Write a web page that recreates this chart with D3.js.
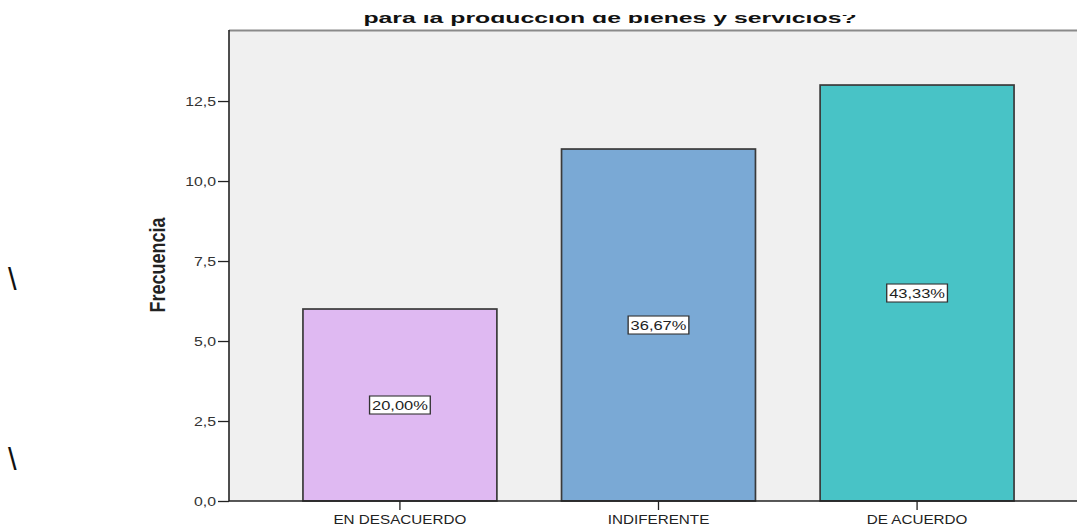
<!DOCTYPE html>
<html>
<head>
<meta charset="utf-8">
<script src="https://cdn.jsdelivr.net/npm/d3@7"></script>
<style>
  html, body { margin: 0; padding: 0; background: #fff; }
  svg { display: block; }
  text { font-family: Arial, "Liberation Sans", sans-serif; }
</style>
</head>
<body>
<svg id="chart" width="1077" height="526"></svg>
<script>
// Frequency of answers per category
const categories = ["EN DESACUERDO", "INDIFERENTE", "DE ACUERDO"];
const frequencies = [6, 11, 13];
const barColors = ["#dfb9f2", "#7aa9d5", "#48c3c6"];
const yTicks = [0, 2.5, 5, 7.5, 10, 12.5];
const titleText = "para la producción de bienes y servicios?";
const axisTitle = "Frecuencia";

const total = d3.sum(frequencies);
const fmtComma = d3.format(".1f");
const fmtPct = d3.format(".2f");
const comma = s => s.replace(".", ",");

// all lettering is drawn horizontally widened
const SX = 1.22;

const svg = d3.select("#chart");
const W = 1077, H = 526;
const plot = { left: 229, right: 1088, top: 30, bottom: 501 };

const x = d3.scaleBand()
  .domain(categories)
  .range([plot.left, plot.right])
  .paddingInner(0.25)
  .paddingOuter(0.286);

const y = d3.scaleLinear()
  .domain([0, 14.72])
  .range([plot.bottom, plot.top]);

// plot background
svg.append("rect")
  .attr("x", plot.left).attr("y", plot.top)
  .attr("width", plot.right - plot.left)
  .attr("height", plot.bottom - plot.top)
  .attr("fill", "#f0f0f0");

// top frame line
svg.append("line")
  .attr("x1", plot.left).attr("x2", plot.right)
  .attr("y1", plot.top + 0.5).attr("y2", plot.top + 0.5)
  .attr("stroke", "#8a8a8a").attr("stroke-width", 2);

// bars
const data = categories.map((c, i) => ({ c, v: frequencies[i], color: barColors[i] }));
svg.append("g").selectAll("rect")
  .data(data).join("rect")
  .attr("x", d => x(d.c))
  .attr("y", d => y(d.v))
  .attr("width", x.bandwidth())
  .attr("height", d => y(0) - y(d.v))
  .attr("fill", d => d.color)
  .attr("stroke", "#3a3a3a")
  .attr("stroke-width", 1.7);

// percentage labels at bar mid-height
const labels = svg.append("g").selectAll("g")
  .data(data).join("g")
  .attr("transform", d => `translate(${x(d.c) + x.bandwidth() / 2},${y(d.v / 2)}) scale(${SX},1)`);
labels.append("text")
  .attr("text-anchor", "middle")
  .attr("dy", "0.36em")
  .attr("font-size", 13.5)
  .attr("fill", "#222")
  .text(d => comma(fmtPct(d.v / total * 100)) + "%")
  .each(function () {
    const b = this.getBBox();
    d3.select(this.parentNode).insert("rect", "text")
      .attr("x", b.x - 2).attr("y", -9)
      .attr("width", b.width + 4).attr("height", 18)
      .attr("fill", "#fff")
      .attr("stroke", "#333").attr("stroke-width", 1.1);
  });

// y axis
const yAxis = d3.axisLeft(y)
  .tickValues(yTicks)
  .tickSize(11)
  .tickPadding(2)
  .tickFormat(d => comma(fmtComma(d)));
const gy = svg.append("g")
  .attr("transform", `translate(${plot.left},0)`)
  .call(yAxis);
gy.select(".domain").attr("d", `M0,${plot.top}V${plot.bottom}`).attr("stroke", "#222").attr("stroke-width", 1.6);
gy.selectAll(".tick line").attr("stroke", "#222").attr("stroke-width", 1.3);
gy.selectAll(".tick text")
  .attr("font-size", 13).attr("fill", "#333")
  .attr("font-family", "Arial, 'Liberation Sans', sans-serif")
  .attr("x", -13 / SX)
  .attr("transform", `scale(${SX},1)`);

// x axis
const xAxis = d3.axisBottom(x).tickSize(9).tickPadding(5);
const gx = svg.append("g")
  .attr("transform", `translate(0,${plot.bottom})`)
  .call(xAxis);
gx.select(".domain").attr("d", `M${plot.left},0H${plot.right}`).attr("stroke", "#222").attr("stroke-width", 1.3);
gx.selectAll(".tick line").attr("stroke", "#222").attr("stroke-width", 1.3);
gx.selectAll(".tick text")
  .attr("font-size", 12.5).attr("fill", "#222")
  .attr("font-family", "Arial, 'Liberation Sans', sans-serif")
  .attr("transform", `scale(${SX},1)`);

// y axis title
svg.append("text")
  .attr("transform", `translate(157,265) scale(${SX},1) rotate(-90)`)
  .attr("text-anchor", "middle")
  .attr("dy", "0.36em")
  .attr("font-size", 18)
  .attr("font-weight", "bold")
  .attr("fill", "#222")
  .text(axisTitle);

// chart title (upper part hidden behind the page edge band)
svg.append("text")
  .attr("transform", `translate(610,22.5) scale(1.24,0.7)`)
  .attr("text-anchor", "middle")
  .attr("font-size", 20)
  .attr("font-weight", "bold")
  .attr("fill", "#111")
  .text(titleText);
svg.append("rect")
  .attr("x", 0).attr("y", 0).attr("width", W).attr("height", 15)
  .attr("fill", "#fff");

// stray marks in the left margin
svg.append("g").selectAll("text")
  .data([290, 470]).join("text")
  .attr("x", 8).attr("y", d => d)
  .attr("font-size", 31)
  .attr("fill", "#111")
  .text("\\");
</script>
</body>
</html>
